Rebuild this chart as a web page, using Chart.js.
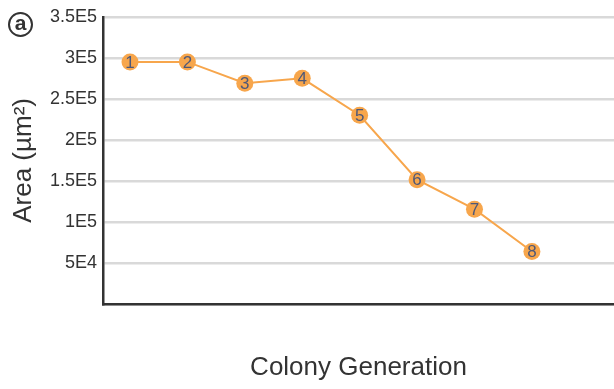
<!DOCTYPE html>
<html>
<head>
<meta charset="utf-8">
<script src="https://cdn.jsdelivr.net/npm/chart.js@4.4.1/dist/chart.umd.min.js"></script>
<style>
html,body{margin:0;padding:0;background:#fff;}
#wrap{width:614px;height:389px;position:relative;}
</style>
</head>
<body>
<div id="wrap"><canvas id="c" width="614" height="389"></canvas></div>
<script>
const generations = [1, 2, 3, 4, 5, 6, 7, 8];
const areaValues = [295000, 295000, 269000, 275000, 230000, 151500, 115500, 64000];
const yTickValues = [50000, 100000, 150000, 200000, 250000, 300000, 350000];
const yTickLabels = ['5E4', '1E5', '1.5E5', '2E5', '2.5E5', '3E5', '3.5E5'];
const panelLetter = 'a';

const orange = '#F7A64C';
const fontFam = '"Liberation Sans", Arial, Helvetica, sans-serif';

const pointLabelPlugin = {
  id: 'pointLabels',
  afterDatasetsDraw(chart) {
    const ctx = chart.ctx;
    const meta = chart.getDatasetMeta(0);
    ctx.save();
    ctx.font = '17px ' + fontFam;
    ctx.fillStyle = '#4E5878';
    ctx.textAlign = 'center';
    ctx.textBaseline = 'middle';
    meta.data.forEach((pt, i) => {
      ctx.fillText(String(generations[i]), pt.x, pt.y + 1);
    });
    ctx.restore();
  }
};

const panelPlugin = {
  id: 'panelLetter',
  afterDraw(chart) {
    const ctx = chart.ctx;
    ctx.save();
    ctx.beginPath();
    ctx.arc(20.5, 24.5, 11.5, 0, Math.PI * 2);
    ctx.lineWidth = 2;
    ctx.strokeStyle = '#333';
    ctx.stroke();
    ctx.font = 'bold 21px ' + fontFam;
    ctx.fillStyle = '#333';
    ctx.textAlign = 'center';
    ctx.textBaseline = 'middle';
    ctx.fillText(panelLetter, 20.5, 24);
    ctx.restore();
  }
};

new Chart(document.getElementById('c'), {
  type: 'line',
  data: {
    datasets: [{
      data: generations.map((g, i) => ({x: g, y: areaValues[i]})),
      borderColor: orange,
      backgroundColor: orange,
      pointBackgroundColor: orange,
      pointBorderColor: orange,
      pointRadius: 8.5,
      pointBorderWidth: 0,
      borderWidth: 2,
      tension: 0
    }]
  },
  options: {
    responsive: false,
    animation: false,
    devicePixelRatio: 1,
    layout: {autoPadding: false, padding: {top: 5, right: 0, bottom: 0, left: 0}},
    plugins: {legend: {display: false}, tooltip: {enabled: false}},
    scales: {
      x: {
        type: 'linear',
        min: 0.53,
        max: 9.43,
        grid: {display: false, drawTicks: false},
        border: {display: true, color: '#333', width: 2.5},
        ticks: {display: false},
        title: {
          display: true,
          text: 'Colony Generation',
          color: '#333',
          font: {family: fontFam, size: 26},
          padding: {top: 0, bottom: 6}
        },
        afterFit(scale) { scale.height = 85; }
      },
      y: {
        min: 0,
        max: 350000,
        afterBuildTicks(scale) {
          scale.ticks = [0].concat(yTickValues).map(v => ({value: v}));
        },
        grid: {color: '#D9D9D9', lineWidth: 2.5, drawTicks: false},
        border: {display: true, color: '#333', width: 2.5},
        ticks: {
          padding: 6,
          color: '#333',
          font: {family: fontFam, size: 18},
          callback(value) {
            const idx = yTickValues.indexOf(value);
            return idx >= 0 ? yTickLabels[idx] : '';
          }
        },
        title: {
          display: true,
          text: 'Area (µm²)',
          color: '#333',
          font: {family: fontFam, size: 26},
          padding: {top: 8, bottom: 0}
        },
        afterFit(scale) { scale.width = 103; }
      }
    }
  },
  plugins: [pointLabelPlugin, panelPlugin]
});
</script>
</body>
</html>
